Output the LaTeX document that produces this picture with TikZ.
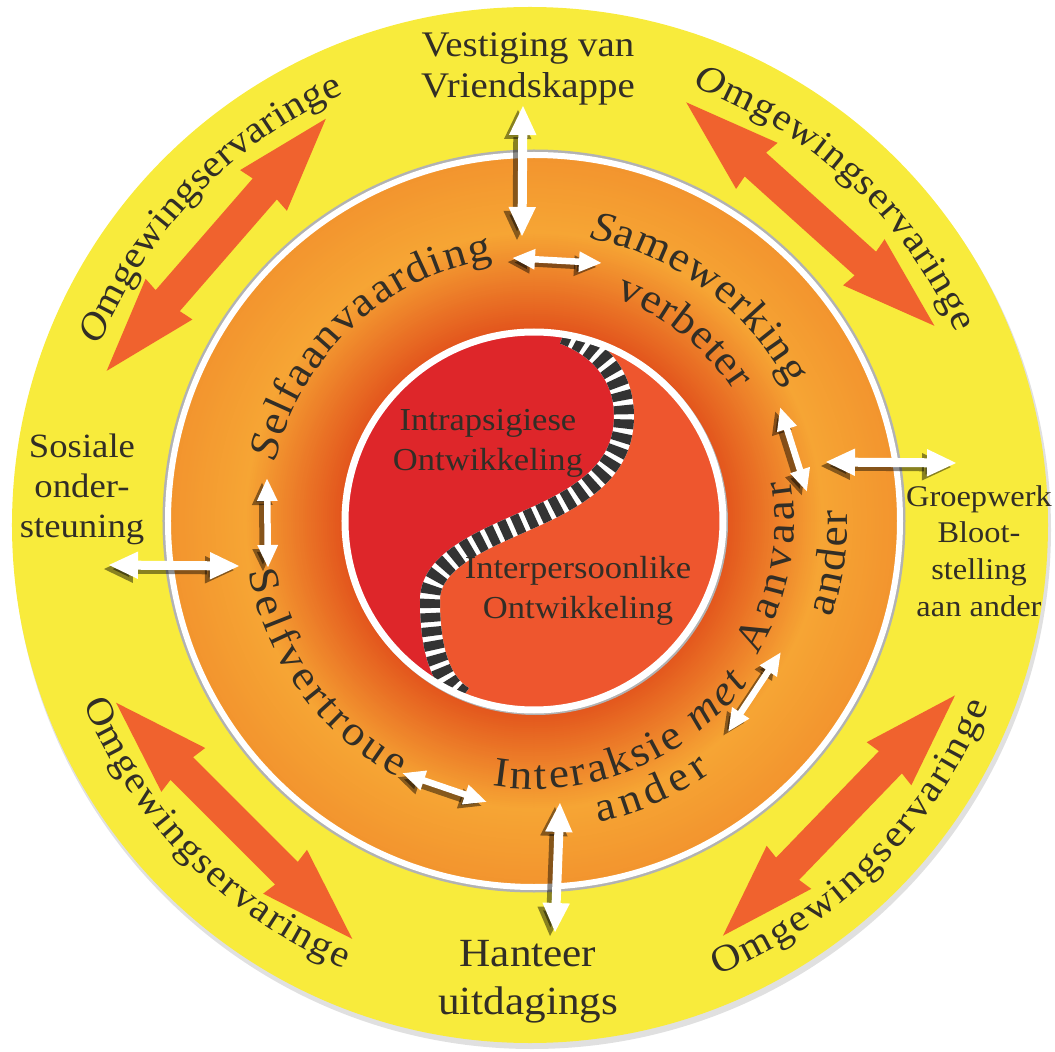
\documentclass[tikz,border=0pt]{standalone}
\usepackage{fontspec}
\setmainfont{Liberation Serif}[FakeStretch=1.08]
\usepackage{xcolor}
\usetikzlibrary{arrows.meta,decorations.text}

\definecolor{ink}{RGB}{50,46,38}
\definecolor{sun}{RGB}{248,235,60}
\definecolor{flame}{RGB}{240,98,46}
\definecolor{yin}{RGB}{222,38,42}
\definecolor{yang}{RGB}{238,86,46}
\definecolor{ringA}{RGB}{226,82,28}
\definecolor{ringC}{RGB}{246,165,52}
\definecolor{ringE}{RGB}{242,148,46}

\newcommand{\ringfont}{\fontsize{42}{42}\selectfont\color{ink}}
\newcommand{\outfont}{\fontsize{38}{38}\selectfont\color{ink}}
\newcommand{\labfont}[2]{\fontsize{#1}{#2}\selectfont}

\begin{document}
\begin{tikzpicture}[
    x=1pt, y=1pt,
    plainlbl/.style={text=ink, align=center, inner sep=0pt},
    arctext/.style={decorate, decoration={text along path, text align=fit to path, text={#1}}},
    bigarrow/.pic={
      \fill[flame] (-167,0) -- (-72,31) -- (-74,16) -- (74,16) -- (72,31) -- (167,0)
        -- (72,-31) -- (74,-16) -- (-74,-16) -- (-72,-31) -- cycle;
    },
    wbig/.style={draw=white, line width=9pt, {Triangle[length=30pt,width=25pt]}-{Triangle[length=30pt,width=25pt]}},
    wsmall/.style={draw=white, line width=6.5pt, {Triangle[length=23pt,width=19pt]}-{Triangle[length=23pt,width=19pt]}}
  ]
  \useasboundingbox (-534,-531) rectangle (521,521);

  % Outer yellow disc
  \fill[black!12] (-2,-9) circle[radius=519];
  \fill[sun] (-4,-4) circle[radius=518];

  % Orange double arrows
  \pic[rotate=49] at (139:421) {bigarrow};
  \pic[rotate=-42] at (48:413) {bigarrow};
  \pic[rotate=135] at (225:424) {bigarrow};
  \pic[rotate=46] at (-44:424) {bigarrow};

  % Outer ring texts
  \path[arctext={|\outfont\itshape|O|\outfont\upshape|mgewingservaringe}]
    (158:468) arc[start angle=158, end angle=114, radius=468];
  \path[arctext={|\outfont\itshape|O|\outfont\upshape|mgewingservaringe}]
    (70:462) arc[start angle=70, end angle=24, radius=462];
  \path[arctext={|\outfont|Omgewingservaringe}]
    (202:486) arc[start angle=202, end angle=247, radius=486];
  \path[arctext={|\outfont|Omgewingservaringe}]
    (292:490) arc[start angle=292, end angle=338, radius=490];

  % Outer labels
  \node[plainlbl, font=\labfont{36}{41}] (vriend) at (-6,452) {Vestiging van\\Vriendskappe};
  \node[plainlbl, font=\labfont{34}{40}] (sosiaal) at (-452,32) {Sosiale\\onder-\\steuning};
  \node[plainlbl, font=\labfont{30}{36.7}] (groep) at (445,-30) {Groepwerk\\Bloot-\\stelling\\aan ander};
  \node[plainlbl, font=\labfont{40}{48}] (hanteer) at (-6,-461) {Hanteer\\uitdagings};

  % Orange ring, shaded from the inside out
  \draw[black!30, line width=3pt] (0,0) circle[radius=370];
  \foreach \r in {367,365,...,291} {
    \pgfmathsetmacro\p{100*(367-\r)/77}
    \fill[ringC!\p!ringE] (0,0) circle[radius=\r];
  }
  \foreach \r in {289,287,...,189} {
    \pgfmathsetmacro\p{100*(\r-189)/100}
    \fill[ringC!\p!ringA] (0,0) circle[radius=\r];
  }
  \draw[white, line width=6pt] (0,0) circle[radius=366];

  % Yin-yang centre
  \coordinate (st) at (81:189);
  \coordinate (sb) at (248:189);
  \fill[yang] (0,0) circle[radius=187];
  \fill[yin] (st) .. controls (64,174) and (90,146) .. (90,105)
    .. controls (90,58) and (58,31) .. (9,8)
    .. controls (-37,-14) and (-104,-35) .. (-104,-79)
    .. controls (-104,-125) and (-95,-160) .. (sb)
    arc[start angle=248, end angle=81, radius=189] -- cycle;
  \begin{scope}
    \clip (0,0) circle[radius=187];
    \draw[white, line width=20pt] (st) .. controls (64,174) and (90,146) .. (90,105)
      .. controls (90,58) and (58,31) .. (9,8)
      .. controls (-37,-14) and (-104,-35) .. (-104,-79)
      .. controls (-104,-125) and (-95,-160) .. (sb);
    \draw[black!80, line width=20pt, dash pattern=on 9pt off 5pt] (st)
      .. controls (64,174) and (90,146) .. (90,105)
      .. controls (90,58) and (58,31) .. (9,8)
      .. controls (-37,-14) and (-104,-35) .. (-104,-79)
      .. controls (-104,-125) and (-95,-160) .. (sb);
  \end{scope}
  \draw[black!30, line width=3pt] (1.5,-1.5) circle[radius=191];
  \draw[white, line width=7pt] (0,0) circle[radius=189];

  % Ring texts
  \path[arctext={|\ringfont\itshape|S|\ringfont\upshape|elfaanvaarding}]
    (167:265) arc[start angle=167, end angle=99, radius=265];
  \path[arctext={|\ringfont\itshape|S|\ringfont\upshape|amewerking}]
    (79:288) arc[start angle=79, end angle=28, radius=288];
  \path[arctext={|\ringfont|verbeter}]
    (70:238) arc[start angle=70, end angle=33, radius=238];
  \path[arctext={|\ringfont|Aanvaar}]
    (-31:260) arc[start angle=-31, end angle=9, radius=260];
  \path[arctext={|\ringfont|ander}]
    (-18:313) arc[start angle=-18, end angle=2, radius=313];
  \path[arctext={|\ringfont|Selfvertroue}]
    (190:290) arc[start angle=190, end angle=242, radius=290];
  \path[arctext={|\ringfont|Interaksie |\ringfont\itshape|met}]
    (261:268) arc[start angle=261, end angle=323, radius=268];
  \path[arctext={|\ringfont|ander}]
    (282:308) arc[start angle=282, end angle=305, radius=308];

  % Centre labels
  \node[plainlbl, font=\labfont{32}{40}] (intra) at (-46,78) {Intrapsigiese\\Ontwikkeling};
  \node[plainlbl, font=\labfont{32}{40}] (inter) at (44,-70) {Interpersoonlike\\Ontwikkeling};

  % White arrow ends
  \coordinate (vt1) at (-11,416);  \coordinate (vt2) at (-12,284);
  \coordinate (ht1) at (-22,263);  \coordinate (ht2) at (68,258);
  \coordinate (rs1) at (246,114);  \coordinate (rs2) at (273,29);
  \coordinate (rh1) at (291,59);   \coordinate (rh2) at (423,58);
  \coordinate (ls1) at (-267,43);  \coordinate (ls2) at (-266,-47);
  \coordinate (lh1) at (-426,-44); \coordinate (lh2) at (-294,-45);
  \coordinate (bs1) at (-132,-252); \coordinate (bs2) at (-47,-281);
  \coordinate (bv1) at (26,-281);  \coordinate (bv2) at (21,-412);
  \coordinate (rd1) at (247,-131); \coordinate (rd2) at (194,-211);

  % Shadows
  \begin{scope}[transform canvas={shift={(-5,-4)}}, opacity=.45]
    \foreach \a/\b in {vt1/vt2, rh1/rh2, lh1/lh2, bv1/bv2}
      \draw[wbig, draw=black] (\a) -- (\b);
    \foreach \a/\b in {ht1/ht2, rs1/rs2, ls1/ls2, bs1/bs2, rd1/rd2}
      \draw[wsmall, draw=black] (\a) -- (\b);
  \end{scope}

  % White arrows
  \foreach \a/\b in {vt1/vt2, rh1/rh2, lh1/lh2, bv1/bv2}
    \draw[wbig] (\a) -- (\b);
  \foreach \a/\b in {ht1/ht2, rs1/rs2, ls1/ls2, bs1/bs2, rd1/rd2}
    \draw[wsmall] (\a) -- (\b);

\end{tikzpicture}
\end{document}
